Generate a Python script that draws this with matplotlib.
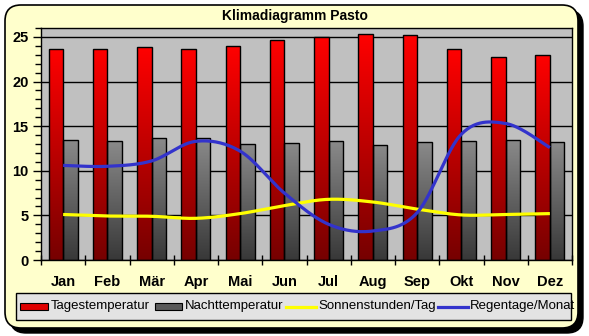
import matplotlib
matplotlib.use("Agg")
import matplotlib.pyplot as plt
import numpy as np
from matplotlib.colors import LinearSegmentedColormap
from matplotlib.patches import FancyBboxPatch, Rectangle
from matplotlib.lines import Line2D
from matplotlib.transforms import Affine2D

# Klimadaten Pasto
months = ["Jan", "Feb", "Mär", "Apr", "Mai", "Jun", "Jul", "Aug", "Sep", "Okt", "Nov", "Dez"]
tag_temp = [23.6, 23.7, 23.85, 23.6, 23.95, 24.6, 24.95, 25.3, 25.2, 23.6, 22.7, 22.95]
nacht_temp = [13.4, 13.3, 13.65, 13.65, 13.0, 13.1, 13.3, 12.9, 13.2, 13.3, 13.4, 13.2]
sonne = [5.1, 4.93, 4.9, 4.67, 5.2, 6.1, 6.8, 6.5, 5.7, 5.05, 5.1, 5.2]
regen = [10.6, 10.5, 11.1, 13.3, 12.2, 7.5, 4.0, 3.25, 5.3, 14.1, 15.3, 12.6]

W, H = 589, 336
plt.rcParams['font.family'] = ['Liberation Sans', 'DejaVu Sans']

fig = plt.figure(figsize=(W / 100, H / 100), dpi=100)
fig.patch.set_facecolor("white")

# pixel coordinates, y from top
pix = Affine2D().scale(1, -1).translate(0, H).scale(1 / W, 1 / H) + fig.transFigure

# chart area with shadow
shadow = FancyBboxPatch((10, 10), 573, 323, boxstyle="round,pad=0,rounding_size=16",
                        transform=pix, facecolor="black", edgecolor="black", zorder=0)
frame = FancyBboxPatch((5, 5), 573, 323, boxstyle="round,pad=0,rounding_size=16",
                       transform=pix, facecolor="#FFFFCC", edgecolor="black", lw=1.2, zorder=1)
fig.patches.extend([shadow, frame])

fig.text(0.5, 1 - 16 / H, "Klimadiagramm Pasto", ha="center", va="center",
         fontsize=10, fontweight="bold", zorder=5)

ax = fig.add_axes([41 / W, 76 / H, 531 / W, 232 / H])
ax.set_facecolor("#C0C0C0")
ax.set_zorder(3)

x = np.arange(len(months))
bw = 0.33

red_cmap = LinearSegmentedColormap.from_list("r", ["#760000", "#FF0000"])
gray_cmap = LinearSegmentedColormap.from_list("g", ["#383838", "#8A8A8A"])
grad = np.linspace(0, 1, 256).reshape(-1, 1)

def gradient_bars(xs, vals, cmap):
    bars = ax.bar(xs, vals, width=bw, color="none", edgecolor="black", lw=1, zorder=3)
    for b in bars:
        x0, y0 = b.get_x(), b.get_y()
        w, h = b.get_width(), b.get_height()
        im = ax.imshow(grad, extent=[x0, x0 + w, y0, y0 + h], origin="lower",
                       aspect="auto", cmap=cmap, zorder=2.5)
        im.set_clip_path(b)
    return bars

gradient_bars(x - bw / 2, tag_temp, red_cmap)
gradient_bars(x + bw / 2, nacht_temp, gray_cmap)

def smooth(xs, ys, n=30):
    # Bezier smoothing like spreadsheet "smoothed line"
    p = np.column_stack([xs, ys]).astype(float)
    pts = []
    for i in range(len(p) - 1):
        p0 = p[i - 1] if i > 0 else p[i]
        p1, p2 = p[i], p[i + 1]
        p3 = p[i + 2] if i + 2 < len(p) else p[i + 1]
        c1 = p1 + (p2 - p0) / 6
        c2 = p2 - (p3 - p1) / 6
        t = np.linspace(0, 1, n)[:, None]
        seg = (1 - t) ** 3 * p1 + 3 * (1 - t) ** 2 * t * c1 + 3 * (1 - t) * t ** 2 * c2 + t ** 3 * p2
        pts.append(seg if i == 0 else seg[1:])
    pts = np.vstack(pts)
    return pts[:, 0], pts[:, 1]

sx, sy = smooth(x, sonne)
ax.plot(sx, sy, color="#FFFF00", lw=2.3, zorder=4, solid_capstyle="butt")
rx, ry = smooth(x, regen)
ax.plot(rx, ry, color="#3333CC", lw=2.3, zorder=4, solid_capstyle="butt")

ax.set_xlim(-0.5, 11.5)
ax.set_ylim(0, 26)
ax.yaxis.grid(True, color="black", lw=1)
ax.set_axisbelow(True)

ax.set_yticks([0, 5, 10, 15, 20, 25])
ax.set_yticks(np.arange(0, 27, 1), minor=True)
ax.tick_params(axis="y", which="major", length=6, width=1, labelsize=10.5, pad=3)
ax.tick_params(axis="y", which="minor", length=4, width=1)
for t in ax.get_yticklabels():
    t.set_fontweight("bold")

ax.set_xticks(np.arange(-0.5, 12, 1))
ax.set_xticklabels([])
ax.set_xticks(x, minor=True)
ax.set_xticklabels(months, minor=True, fontweight="bold", fontsize=10.5)
ax.tick_params(axis="x", which="major", direction="inout", length=7, width=1)
ax.tick_params(axis="x", which="minor", length=0, pad=11)
for s in ax.spines.values():
    s.set_color("black")
    s.set_linewidth(1)

# legend box
leg = Rectangle((16, 293), 555, 27, transform=pix, facecolor="#E3E3E3",
                edgecolor="black", lw=1, zorder=2)
fig.patches.append(leg)
ly = 306.5
fig.patches.append(Rectangle((20, 303), 28, 7, transform=pix, facecolor="#E00000",
                             edgecolor="black", lw=0.8, zorder=3))
fig.patches.append(Rectangle((155, 303), 27, 7, transform=pix, facecolor="#5A5A5A",
                             edgecolor="black", lw=0.8, zorder=3))
fig.lines.append(Line2D([286, 316], [ly, ly], transform=pix, color="#FFFF00", lw=2.3, zorder=3))
fig.lines.append(Line2D([438, 468], [ly, ly], transform=pix, color="#3333CC", lw=2.3, zorder=3))
for xp, txt in [(51, "Tagestemperatur"), (185, "Nachttemperatur"),
                (318, "Sonnenstunden/Tag"), (470, "Regentage/Monat")]:
    fig.text(xp / W, 1 - ly / H, txt, ha="left", va="center", fontsize=9.5, zorder=4)

fig.savefig("out.png", dpi=100)
